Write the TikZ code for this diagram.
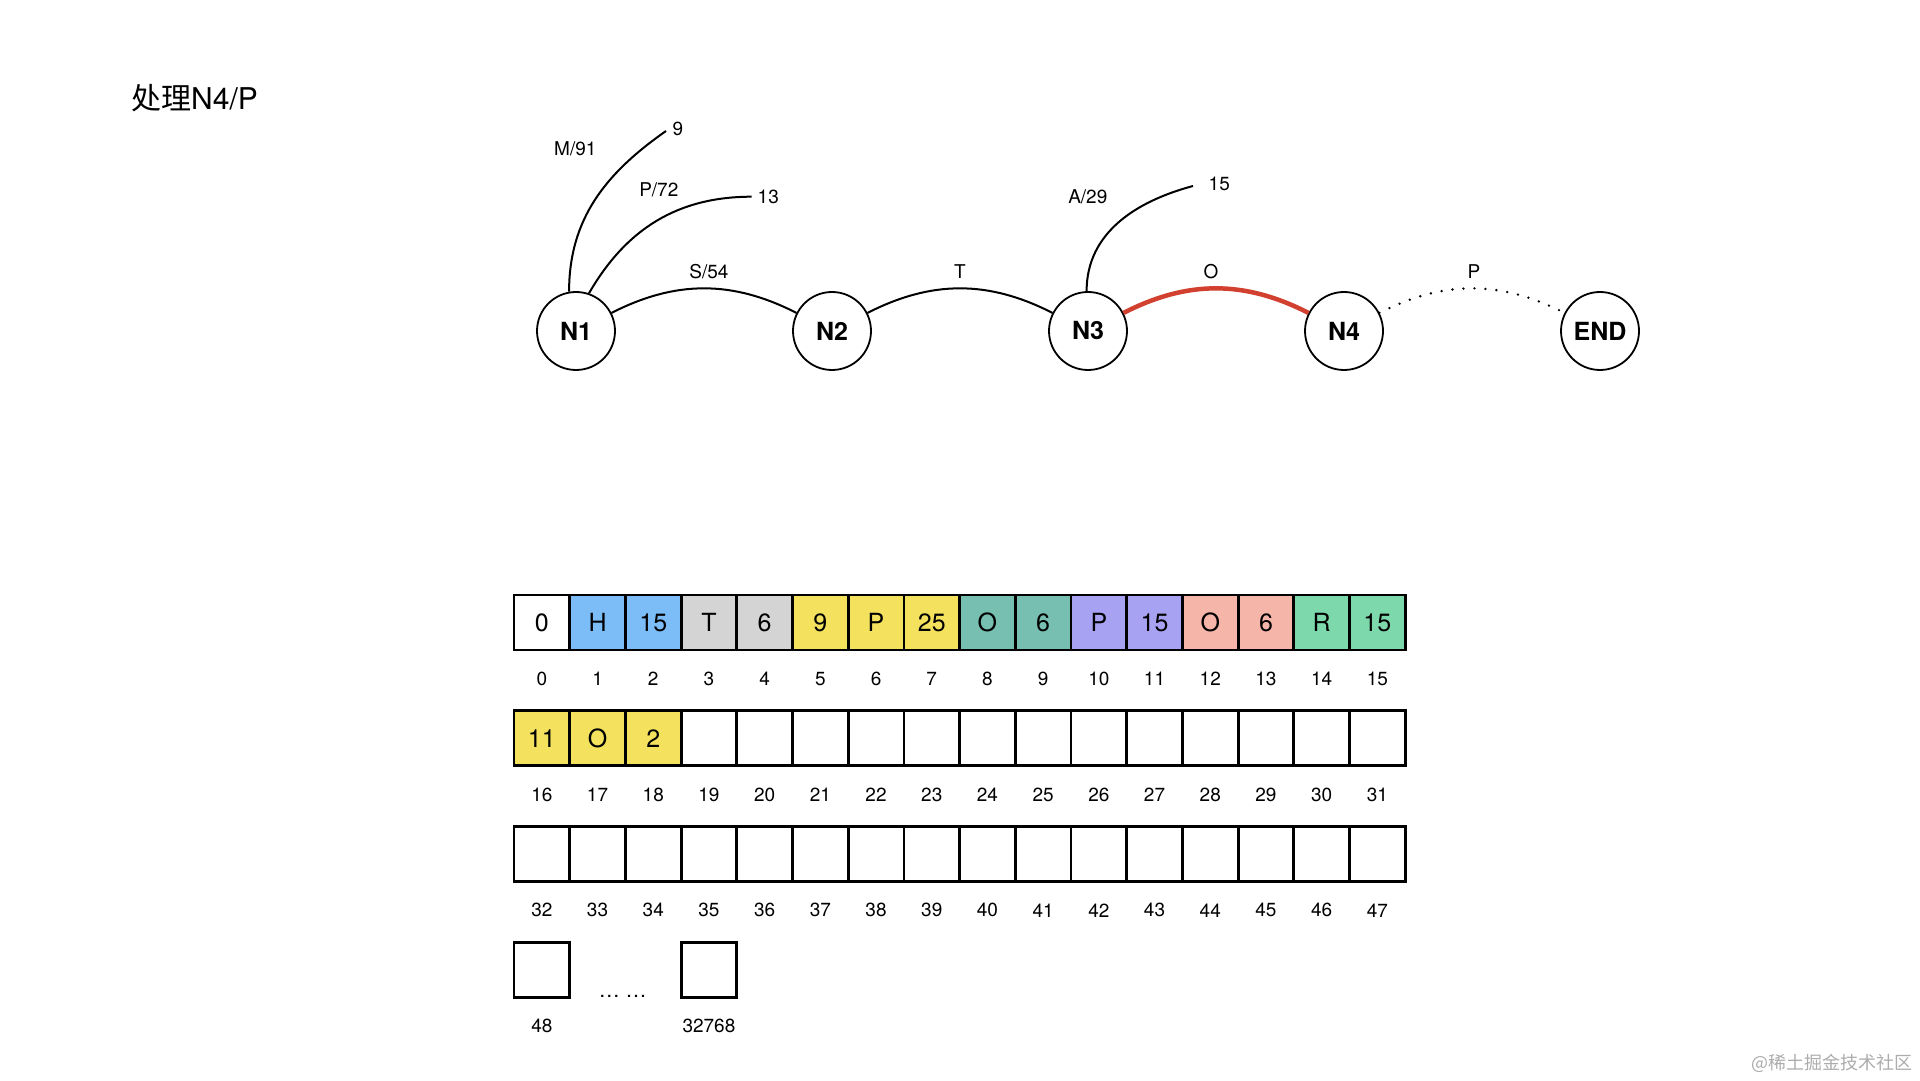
\documentclass[tikz,border=0pt]{standalone}
\usepackage{fontspec}
\setmainfont{TeX Gyre Heros}
\newfontfamily\cjk{Noto Sans CJK SC}
\usepackage{tikz}
\usetikzlibrary{positioning}
\usepackage{xcolor}
\definecolor{skyc}{HTML}{7CBDF7}
\definecolor{greyc}{HTML}{D4D4D4}
\definecolor{lemon}{HTML}{F4E25F}
\definecolor{tealc}{HTML}{76BFB1}
\definecolor{lavc}{HTML}{A8A2F3}
\definecolor{salmon}{HTML}{F5B5A9}
\definecolor{mint}{HTML}{7DD9AB}
\definecolor{hotred}{HTML}{D24130}
\tikzset{state/.style={circle,draw,line width=1.8pt,minimum size=78pt,inner sep=0pt,font=\fontsize{25}{30}\selectfont\bfseries}, edgetext/.style={font=\fontsize{19}{23}\selectfont}, trieedge/.style={line width=2pt}, hotedge/.style={draw=hotred,line width=4.5pt}, nextedge/.style={line width=2.6pt,line cap=round,dash pattern=on 0pt off 11pt}, cell/.style={draw,line width=2.8pt,minimum width=55.7pt,minimum height=55pt,inner sep=0pt,font=\fontsize{25}{30}\selectfont}, idx/.style={font=\fontsize{19}{23}\selectfont}}
\begin{document}
\begin{tikzpicture}[x=1pt,y=1pt]
\useasboundingbox (0,0) rectangle (1920,1080);
\node[anchor=base west,inner sep=0pt,font=\fontsize{30}{36}\selectfont] (title) at (131,970) {{\cjk 处理}N4/P};
% trie states
\foreach \nm [count=\i from 0] in {N1,N2,N3,N4,END}
 \node[state] (\nm) at ({576+256*\i},749) {\nm};
\draw[trieedge] (N1) to[bend left=27] node[edgetext,above=5pt,xshift=5pt] (lS) {S/54} (N2);
\draw[trieedge] (N2) to[bend left=27] node[edgetext,above=5pt] (lT) {T} (N3);
\draw[hotedge] (N3) to[bend left=27] node[edgetext,text=black,above=4pt,xshift=-5pt] (lO) {O} (N4);
\draw[nextedge] (N4) to[bend left=27] node[edgetext,above=5pt,xshift=2pt] (lP) {P} (END);
% side branches
\coordinate (m9) at (666,949);
\coordinate (p13) at (751.7,883.3);
\coordinate (a15) at (1193,894);
\draw[trieedge] (N1.100) to[out=90,in=215] (m9);
\draw[trieedge] (N1.71) to[out=60,in=180] (p13);
\draw[trieedge] (N3.92) to[out=90,in=195] (a15);
\node[edgetext] (lM) at (575.3,931.7) {M/91};
\node[edgetext] (l9) at (678,951.2) {9};
\node[edgetext] (lPb) at (658.8,890) {P/72};
\node[edgetext] (l13) at (768.3,882.7) {13};
\node[edgetext] (lA) at (1087.8,883.2) {A/29};
\node[edgetext] (l15) at (1219.3,896) {15};
% array
\foreach \txt/\clr [count=\i from 0] in {0/white,H/skyc,15/skyc,T/greyc,6/greyc,9/lemon,P/lemon,25/lemon,O/tealc,6/tealc,P/lavc,15/lavc,O/salmon,6/salmon,R/mint,15/mint}{
 \node[cell,fill=\clr] (c\i) at ({541.85+55.7*\i},457.5) {\txt};
 \node[idx] (i\i) at ({541.85+55.7*\i},401) {\i};
}
\foreach \k in {0,...,15}{
 \pgfmathtruncatemacro{\n}{\k+16}
 \ifnum\k<3 \def\clr{lemon}\else\def\clr{white}\fi
 \node[cell,fill=\clr] (c\n) at ({541.85+55.7*\k},341.8) {\ifcase\k\relax 11\or O\or 2\fi};
 \node[idx] (i\n) at ({541.85+55.7*\k},285.3) {\n};
}
\foreach \k in {0,...,15}{
 \pgfmathtruncatemacro{\n}{\k+32}
 \node[cell] (c\n) at ({541.85+55.7*\k},226.1) {};
 \node[idx] (i\n) at ({541.85+55.7*\k},169.6) {\n};
}
\node[cell] (c48) at (541.85,110.4) {};
\node[idx] (i48) at (541.85,53.9) {48};
\node[cell] (clast) at (708.95,110.4) {};
\node[idx] (ilast) at (708.95,53.9) {32768};
\node[anchor=base,inner sep=0pt,font=\fontsize{21}{25}\selectfont] (gap) at (622.8,82.5) {… …};
\node[anchor=base east,inner sep=0pt,text=gray!65,font=\cjk\fontsize{18}{22}\selectfont] (mark) at (1913,11) {@稀土掘金技术社区};
\end{tikzpicture}
\end{document}
